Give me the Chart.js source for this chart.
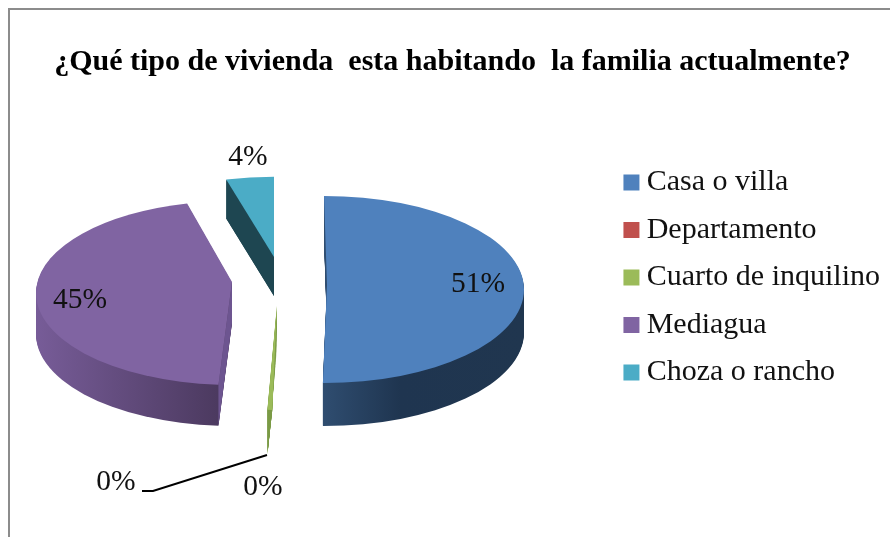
<!DOCTYPE html>
<html><head><meta charset="utf-8">
<script src="https://cdn.jsdelivr.net/npm/chart.js@4"></script>
<style>html,body{margin:0;padding:0;background:#fff}canvas{display:block}</style>
</head><body><canvas id="c" width="890" height="537"></canvas>
<script>
const titleText = "¿Qué tipo de vivienda  esta habitando  la familia actualmente?";
const categories = ["Casa o villa","Departamento","Cuarto de inquilino","Mediagua","Choza o rancho"];
const shares = [50.7,0,0.4,45,3.9];
const colors = ["#4F81BD","#C0504D","#9BBB59","#8064A2","#4BACC6"];
const FONT = "'Liberation Serif','Times New Roman',serif";

// 3-D look of each slice: where the exploded slice sits on the page
const look = [
 {cx:324,cy:289.5,ax:327,ay:285,ry:93.5,scale:200/197,depth:43,end:-2.2,grad:[[323,"#2f4d70"],[400,"#1f3550"],[524,"#20364f"]],label:[478,284]},
 {cx:276,cy:300,ax:276,ay:300,ry:93,scale:1,depth:43,end:0,grad:[[0,"#7a2f2c"],[1,"#7a2f2c"]],label:[116,482],leader:[[142,491],[153,491],[267,455]]},
 {cx:281,cy:317,ax:277,ay:305,ry:93,scale:1,depth:45,end:0,taper:true,grad:[[265,"#7a9a45"],[280,"#7a9a45"]],label:[263,487]},
 {cx:232,cy:293,ax:232,ay:282,ry:92,scale:196/197,depth:41,end:0.8,grad:[[36,"#775c98"],[217,"#4c3a60"]],label:[80,300],wall:"#6d5590"},
 {cx:274,cy:270,ax:274,ay:257,ry:93.3,scale:1,depth:39,end:0,grad:[[226,"#1e4651"],[274,"#1e4651"]],label:[248,157],wall:"#1e4651"}
];
const drawOrder = [4,3,0,1,2];

function slicePath(ctx,arc,g,dy){
  const R = arc.outerRadius*g.scale;
  const a1 = arc.endAngle + g.end*Math.PI/180;
  let a0 = arc.startAngle;
  if(g.taper) a0 += (a1-a0)*dy/g.depth;
  ctx.beginPath();
  ctx.moveTo(g.ax,g.ay+dy);
  ctx.ellipse(g.cx,g.cy+dy,R,g.ry,0,a0,a1);
  ctx.closePath();
}
const pie3d = {
  id:"pie3d",
  beforeDraw(chart){
    const ctx = chart.ctx;
    ctx.save();
    ctx.fillStyle="#fff"; ctx.fillRect(0,0,chart.width,chart.height);
    ctx.fillStyle="#8c8c8c";
    ctx.fillRect(8,8,chart.width-8,2);
    ctx.fillRect(8,8,2,chart.height-8);
    ctx.restore();
  },
  beforeDatasetDraw(chart,args){
    const ctx = chart.ctx, arcs = args.meta.data;
    drawOrder.forEach(i=>{
      const arc = arcs[i], g = look[i];
      if(arc.circumference<=0) return;
      const x0=g.grad[0][0], x1=g.grad[g.grad.length-1][0];
      const grad = ctx.createLinearGradient(x0,0,x1,0);
      g.grad.forEach(s=>grad.addColorStop((s[0]-x0)/(x1-x0),s[1]));
      ctx.save();
      ctx.fillStyle = grad;
      for(let d=g.depth;d>=1;d--){ slicePath(ctx,arc,g,d); ctx.fill(); }
      if(g.wall){
        const R=arc.outerRadius*g.scale, a=arc.startAngle;
        const ex=g.cx+R*Math.cos(a), ey=g.cy+g.ry*Math.sin(a);
        ctx.fillStyle=g.wall;
        ctx.beginPath();
        ctx.moveTo(g.ax,g.ay); ctx.lineTo(ex,ey); ctx.lineTo(ex,ey+g.depth); ctx.lineTo(g.ax,g.ay+g.depth);
        ctx.closePath(); ctx.fill();
      }
      ctx.fillStyle = colors[i];
      slicePath(ctx,arc,g,0); ctx.fill();
      ctx.restore();
    });
    return false;
  },
  afterDatasetsDraw(chart){
    const ctx = chart.ctx, total = shares.reduce((a,b)=>a+b,0);
    ctx.save();
    ctx.fillStyle="#111"; ctx.font="29.5px "+FONT; ctx.textAlign="center"; ctx.textBaseline="middle";
    shares.forEach((v,i)=>{
      ctx.fillText(Math.round(v/total*100)+"%",look[i].label[0],look[i].label[1]);
      if(look[i].leader){
        ctx.strokeStyle="#000"; ctx.lineWidth=2; ctx.beginPath();
        look[i].leader.forEach((p,k)=>k?ctx.lineTo(p[0],p[1]):ctx.moveTo(p[0],p[1]));
        ctx.stroke();
      }
    });
    ctx.restore();
  }
};
new Chart(document.getElementById("c"),{
  type:"pie",
  plugins:[pie3d],
  data:{labels:categories,datasets:[{data:shares,backgroundColor:colors,borderWidth:0}]},
  options:{
    responsive:false,animation:false,radius:197,
    layout:{padding:{left:15,right:0,top:18,bottom:0}},
    plugins:{
      tooltip:{enabled:false},
      title:{display:true,text:titleText,color:"#000",font:{family:FONT,size:30,weight:"bold"},padding:{top:26,bottom:26}},
      legend:{position:"right",align:"center",
        labels:{usePointStyle:true,pointStyle:"rect",boxWidth:0.5,boxHeight:16,padding:17.5,color:"#111",font:{family:FONT,size:30}}}
    }
  }
});
</script></body></html>
